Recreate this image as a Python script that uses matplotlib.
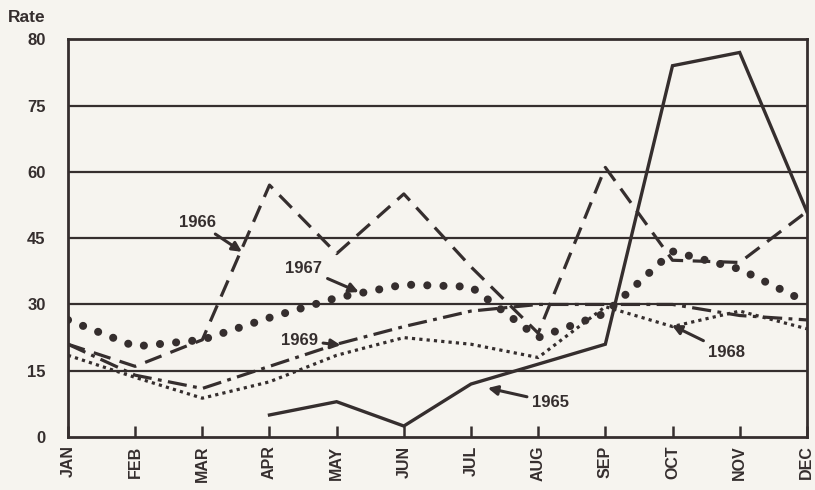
import numpy as np
import matplotlib
matplotlib.use("Agg")
import matplotlib.pyplot as plt

########## data ##########
months = ['JAN', 'FEB', 'MAR', 'APR', 'MAY', 'JUN', 'JUL', 'AUG', 'SEP', 'OCT', 'NOV', 'DEC']
yticks = [0, 15, 30, 45, 60, 75, 90]
yticklabels = ['0', '15', '30', '45', '60', '75', '80']

rate1965 = [np.nan, np.nan, np.nan, 5, 8, 2.5, 12, 16.5, 21, 84, 87, 51]
rate1966 = [21, 16, 22, 57, 41.5, 55, 38.5, 23.5, 61, 40, 39.5, 51]
rate1967 = [26.5, 20.5, 22, 27, 31.5, 34.5, 34, 22.5, 28, 42, 38, 30.5]
rate1968 = [18.5, 13.5, 8.8, 12.5, 18.5, 22.5, 21, 18, 29.5, 25, 28.5, 24.5]
rate1969 = [21, 14, 11, 16, 21, 25, 28.5, 30, 30, 30, 27.5, 26.5]

ink = '#352e2e'
paper = '#f6f4ef'
plt.rcParams['font.family'] = ['Liberation Sans', 'DejaVu Sans']

fig = plt.figure(figsize=(8.15, 4.9), dpi=100, facecolor=paper)
ax = fig.add_axes([0.0834, 0.108, 0.9066, 0.812])
ax.set_facecolor(paper)

x = np.arange(len(months))

# the five years, each with its own line style
ax.plot(x, rate1965, color=ink, lw=2.4, solid_joinstyle='miter')
ax.plot(x, rate1966, color=ink, lw=2.3, linestyle=(0, (5.5, 3)))
ax.plot(x, rate1967, color=ink, lw=5.8, linestyle=(0, (0.01, 2.0)),
        dash_capstyle='round')
ax.plot(x, rate1968, color=ink, lw=2.3, linestyle=(0, (1, 1.3)))
ax.plot(x, rate1969, color=ink, lw=2.3, linestyle=(0, (6, 2, 1.2, 2)))

# labels with arrows
arrow = dict(arrowstyle='-|>', color=ink, lw=2.2, mutation_scale=14,
             shrinkA=2, shrinkB=0)
notes = [('1966', (1.93, 48.6), (2.59, 41.9)),
         ('1967', (3.51, 38.2), (4.33, 32.8)),
         ('1969', (3.44, 21.9), (4.06, 20.8)),
         ('1968', (9.81, 19.2), (8.99, 25.3)),
         ('1965', (7.19, 7.9), (6.25, 11.1))]
for label, txt, tip in notes:
    ax.annotate(label, xy=tip, xytext=txt, ha='center', va='center',
                fontsize=12, fontweight='bold', color=ink, arrowprops=arrow)

ax.set_xlim(0, 11)
ax.set_ylim(0, 90)
ax.set_xticks(x)
ax.set_xticklabels(months, rotation=90, fontsize=11.5, fontweight='bold', color=ink)
ax.set_yticks(yticks)
ax.set_yticklabels(yticklabels, fontsize=12, fontweight='bold', color=ink)
ax.tick_params(axis='x', direction='in', length=8, width=1.8, color=ink, pad=6)
ax.tick_params(axis='y', length=0, pad=16)

for y in yticks[1:-1]:
    ax.axhline(y, color=ink, lw=1.6, zorder=0)
for s in ax.spines.values():
    s.set_color(ink)
    s.set_linewidth(2)

fig.text(0.01, 0.965, 'Rate', fontsize=12.5, fontweight='bold', color=ink,
         va='center')

fig.savefig('out.png', dpi=100, facecolor=paper)
